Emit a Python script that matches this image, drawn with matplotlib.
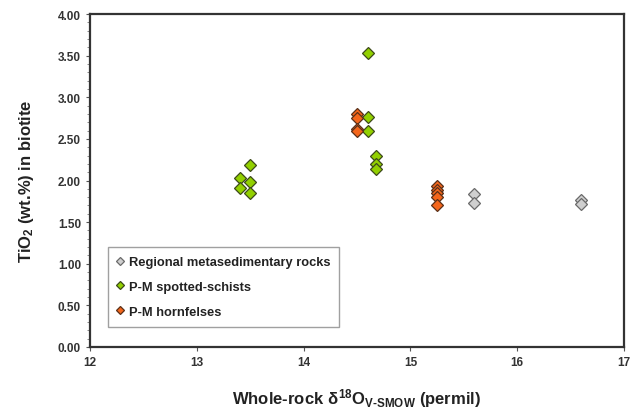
import matplotlib
matplotlib.use("Agg")
import matplotlib.pyplot as plt
from matplotlib.ticker import MultipleLocator

plt.rcParams['font.family'] = ['Liberation Sans', 'DejaVu Sans']
plt.rcParams['mathtext.fontset'] = 'custom'
plt.rcParams['mathtext.rm'] = 'Liberation Sans:bold'
plt.rcParams['mathtext.it'] = 'Liberation Sans:bold'
plt.rcParams['mathtext.bf'] = 'Liberation Sans:bold'

# Data
regional_x = [15.6, 15.6, 16.6, 16.6]
regional_y = [1.84, 1.73, 1.76, 1.72]

schist_x = [13.4, 13.4, 13.5, 13.5, 13.5, 14.6, 14.6, 14.6, 14.68, 14.68, 14.68]
schist_y = [2.03, 1.91, 2.19, 1.98, 1.85, 3.53, 2.76, 2.60, 2.29, 2.20, 2.14]

hornfels_x = [14.5, 14.5, 14.5, 14.5, 15.25, 15.25, 15.25, 15.25, 15.25]
hornfels_y = [2.80, 2.75, 2.62, 2.59, 1.93, 1.88, 1.85, 1.80, 1.70]

series_labels = ["Regional metasedimentary rocks", "P-M spotted-schists", "P-M hornfelses"]

x_ticks = [12, 13, 14, 15, 16, 17]
y_ticks = [0.0, 0.5, 1.0, 1.5, 2.0, 2.5, 3.0, 3.5, 4.0]

fig = plt.figure(figsize=(6.42, 4.14), dpi=100)
ax = fig.add_axes([90/642, 1 - 348/414, (624-90)/642, (348-15)/414])

edge = '#333333'
ax.plot(regional_x, regional_y, 'D', ms=6.3, mfc='#cfcfcf', mec='#6a6a6a', mew=0.9,
        label=series_labels[0], linestyle='none')
ax.plot(schist_x, schist_y, 'D', ms=6.3, mfc='#92d000', mec='#3d4a1a', mew=0.9,
        label=series_labels[1], linestyle='none')
ax.plot(hornfels_x, hornfels_y, 'D', ms=6.3, mfc='#f4661b', mec='#5a3018', mew=0.9,
        label=series_labels[2], linestyle='none')

ax.set_xlim(12, 17)
ax.set_ylim(0, 4)
ax.set_xticks(x_ticks)
ax.set_xticklabels([str(t) for t in x_ticks])
ax.set_yticks(y_ticks)
ax.set_yticklabels([f"{t:.2f}" for t in y_ticks])
ax.yaxis.set_minor_locator(MultipleLocator(0.1))

for s in ax.spines.values():
    s.set_color(edge)
    s.set_linewidth(1.6)
ax.tick_params(axis='both', which='major', direction='out', length=3, width=0.8,
               colors='#555555', labelsize=8.5, labelcolor='#333333')
ax.tick_params(axis='y', which='minor', direction='out', length=2, width=0.6, colors='#777777')
for lab in ax.get_xticklabels() + ax.get_yticklabels():
    lab.set_fontweight('bold')

ax.set_xlabel(r'Whole-rock $\delta^{18}$O$_{V\text{-}SMOW}$ (permil)', fontsize=12,
              fontweight='bold', labelpad=13, color='#222222')
ax.set_ylabel(r'TiO$_2$ (wt.%) in biotite', fontsize=12, fontweight='bold',
              labelpad=16, color='#222222')

leg = ax.legend(loc='lower left', bbox_to_anchor=((108-90)/534, (348-328)/333),
                frameon=True, fancybox=False, edgecolor='#888888', fontsize=9.3,
                handlelength=0.5, handletextpad=0.4, borderpad=0.7, labelspacing=1.0,
                markerscale=0.65, borderaxespad=0)
leg.get_frame().set_linewidth(1.0)
for t in leg.get_texts():
    t.set_fontweight('bold')
    t.set_color('#222222')

fig.savefig('out.png', dpi=100)
